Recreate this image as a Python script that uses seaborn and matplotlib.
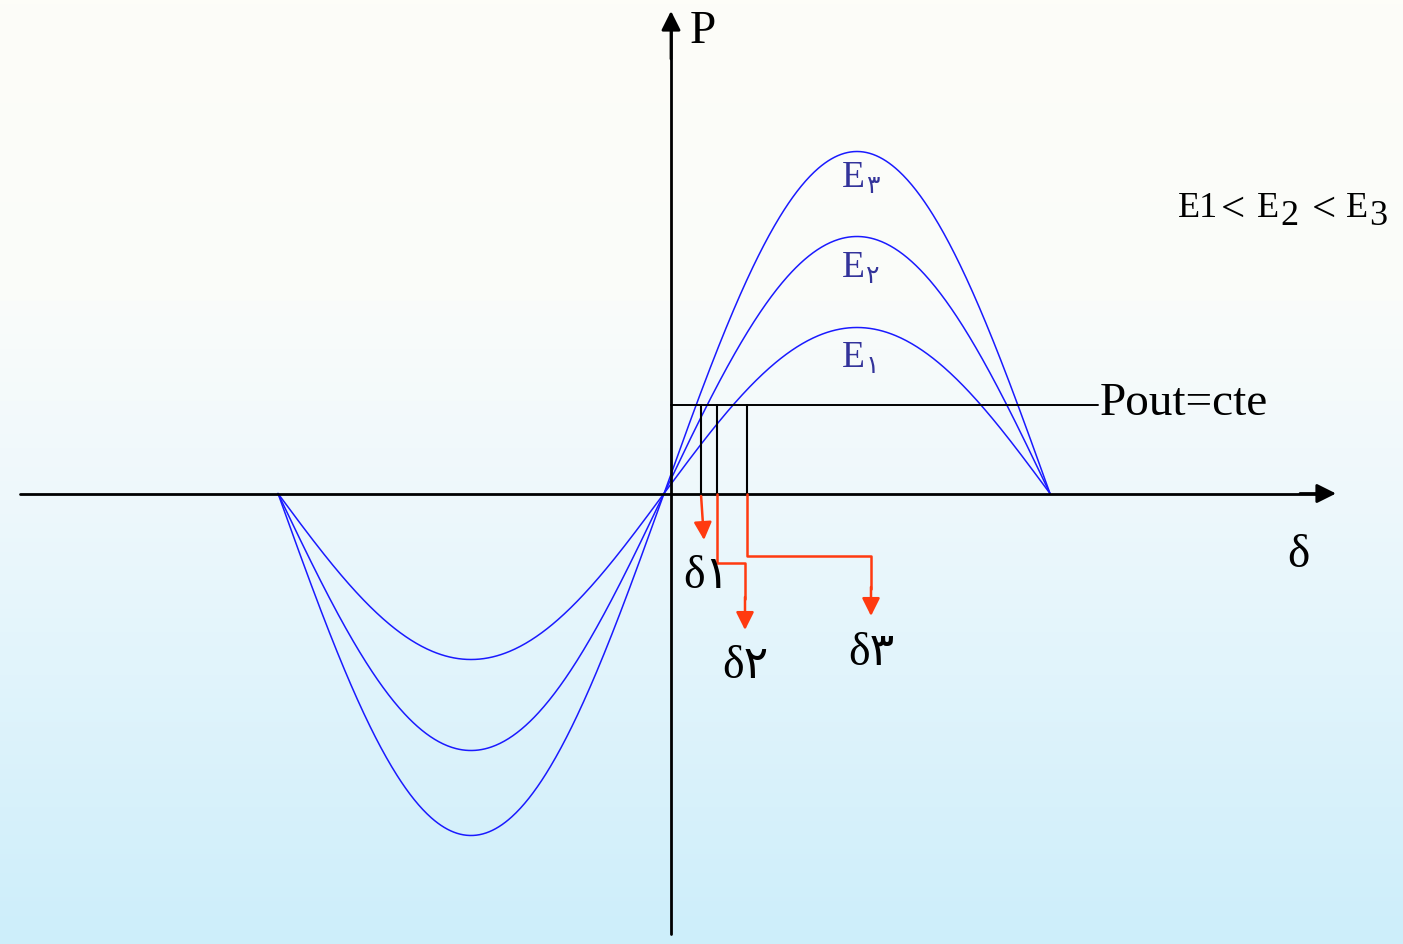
import numpy as np
import pandas as pd
import matplotlib
matplotlib.use("Agg")
import matplotlib.pyplot as plt
import seaborn as sns

# Power–angle curves P = E * sin(delta) for three excitation levels
curve_names = ["E1", "E2", "E3"]
curve_amplitudes = [1.66, 2.57, 3.42]          # peak power (per unit)
p_out = 0.89                                   # constant output power
delta_marks = [17.3, 24.7, 38.7]               # operating angles (deg)
delta_names = ["δ\u06f1", "δ\u06f2", "δ\u06f3"]
curve_labels = ["\u06f1", "\u06f2", "\u06f3"]

sns.set_style("white")
serif = ["Liberation Serif", "DejaVu Sans"]
plt.rcParams["font.family"] = serif
plt.rcParams["text.color"] = "black"

W, H, DPI = 1403, 945, 100
fig = plt.figure(figsize=(W / DPI, H / DPI), dpi=DPI)

# pixel <-> data mapping for the drawing canvas
X0, S = 664.0, 386.0 / 180.0     # delta = 0 pixel column, px per degree
Y0, U = 494.5, 100.0             # P = 0 pixel row, px per unit


def dx(xp):
    return (xp - X0) / S


def dy(yp):
    return (Y0 - yp) / U


# background gradient
bg = fig.add_axes([0, 0, 1, 1])
rows = np.linspace(0, H, 200)
stops_y = [0, 300, 500, 945]
stops_c = np.array([[253, 253, 248], [250, 252, 250], [238, 248, 252], [205, 238, 250]]) / 255
grad = np.stack([np.interp(rows, stops_y, stops_c[:, k]) for k in range(3)], axis=-1)
bg.imshow(grad[:, None, :], aspect="auto", extent=[0, 1, 0, 1], origin="upper")
bg.set_axis_off()

ax = fig.add_axes([0, 0, 1, 1])
ax.patch.set_alpha(0)
ax.set_xlim(dx(0), dx(W))
ax.set_ylim(dy(H), dy(0))
ax.set_axis_off()

# curves
delta = np.linspace(-180, 180, 721)
frames = []
for name, amp in zip(curve_names, curve_amplitudes):
    frames.append(pd.DataFrame({"delta": delta,
                                "P": amp * np.sin(np.radians(delta)),
                                "curve": name}))
df = pd.concat(frames, ignore_index=True)
sns.lineplot(data=df, x="delta", y="P", hue="curve", estimator=None, sort=False,
             palette=["#1a1aff"] * 3, linewidth=1.1, legend=False, ax=ax)

# axes with arrow heads
y_axis_d = dx(671)
ax.plot([dx(20), dx(1320)], [0, 0], color="black", lw=2.0)
ax.annotate("", xy=(dx(1336), 0), xytext=(dx(1300), 0),
            arrowprops=dict(arrowstyle="-|>", color="black", lw=2.0, mutation_scale=29,
                            shrinkA=0, shrinkB=0))
ax.plot([y_axis_d, y_axis_d], [dy(935), dy(28)], color="black", lw=2.0)
ax.annotate("", xy=(y_axis_d, dy(12)), xytext=(y_axis_d, dy(60)),
            arrowprops=dict(arrowstyle="-|>", color="black", lw=2.0, mutation_scale=29,
                            shrinkA=0, shrinkB=0))

# constant output power line
ax.plot([y_axis_d, dx(1098)], [p_out, p_out], color="black", lw=1.4)
ax.text(dx(1100), dy(415), "Pout=cte", fontsize=34, va="baseline", ha="left")

# operating-point drops
for d in delta_marks:
    ax.plot([d, d], [p_out, 0], color="black", lw=1.5)

red = "#ff3a10"
arrow_kw = dict(arrowstyle="-|>", color=red, lw=1.8, mutation_scale=27, shrinkA=0, shrinkB=0)

# delta 1: short slanted drop
d1 = delta_marks[0]
ax.annotate("", xy=(dx(704), dy(541)), xytext=(d1, dy(497)), arrowprops=arrow_kw)

# delta 2: elbow path
d2 = delta_marks[1]
ax.plot([d2, d2, dx(745), dx(745)], [0, dy(564), dy(564), dy(600)], color=red, lw=1.8)
ax.annotate("", xy=(dx(745), dy(631)), xytext=(dx(745), dy(598)), arrowprops=arrow_kw)

# delta 3: elbow path
d3 = delta_marks[2]
ax.plot([d3, d3, dx(871), dx(871)], [0, dy(557), dy(557), dy(590)], color=red, lw=1.8)
ax.annotate("", xy=(dx(871), dy(617)), xytext=(dx(871), dy(588)), arrowprops=arrow_kw)

# angle labels
for name, (xl, yb) in zip(delta_names, [(683, 588), (722, 678), (848, 665)]):
    ax.text(dx(xl), dy(yb), name, fontsize=33, va="baseline", ha="left", family=serif)

# axis labels
ax.text(dx(690), dy(43), "P", fontsize=34, va="baseline", ha="left")
ax.text(dx(1287), dy(567), "δ", fontsize=34, va="baseline", ha="left")

# curve labels
e_color = "#33339a"
for sub, yb in zip(curve_labels, [367, 277, 187]):
    ax.text(dx(842), dy(yb), "E", fontsize=27, color=e_color, va="baseline", ha="left")
    ax.text(dx(866), dy(yb + 6), sub, fontsize=18, color=e_color, va="baseline",
            ha="left", family=serif)

# ordering note
note = [("E1", 1178, 217, 26), ("<", 1221, 221, 31), ("E", 1257, 217, 26), ("2", 1280, 225, 26),
        ("<", 1312, 221, 31), ("E", 1346, 217, 26), ("3", 1369, 225, 26)]
for s, xl, yb, fs in note:
    ax.text(dx(xl), dy(yb), s, fontsize=fs, va="baseline", ha="left")

fig.savefig("out.png", dpi=DPI)
